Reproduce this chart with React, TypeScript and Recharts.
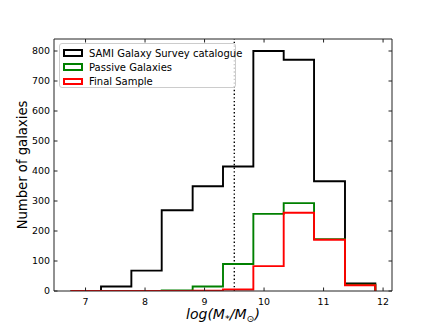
import { ComposedChart, Line, XAxis, YAxis, ReferenceLine, Label } from "recharts"

const binEdges = [6.75, 7.26, 7.77, 8.28, 8.8, 9.31, 9.82, 10.33, 10.84, 11.36, 11.87]
const samiCounts = [0, 15, 68, 269, 349, 415, 800, 771, 366, 25]
const passiveCounts = [0, 0, 0, 2, 15, 90, 257, 293, 173, 21]
const finalCounts = [0, 0, 0, 0, 1, 5, 83, 261, 171, 19]
const xTicks = [7, 8, 9, 10, 11, 12]
const yTicks = [0, 100, 200, 300, 400, 500, 600, 700, 800]
const massCut = 9.5

const series = [
  { name: "SAMI Galaxy Survey catalogue", counts: samiCounts, color: "#000000" },
  { name: "Passive Galaxies", counts: passiveCounts, color: "#008000" },
  { name: "Final Sample", counts: finalCounts, color: "#ff0000" },
]

// step outline like histtype="step": up at first edge, down at last
function stepPoints(counts: number[]) {
  const pts = [{ x: binEdges[0], y: 0 }]
  counts.forEach((c, i) => pts.push({ x: binEdges[i], y: c }))
  const last = binEdges[binEdges.length - 1]
  pts.push({ x: last, y: counts[counts.length - 1] })
  pts.push({ x: last, y: 0 })
  return pts
}

const xDomain: [number, number] = [6.47, 12.15]
const yDomain: [number, number] = [0, 840]
const font = "DejaVu Sans, sans-serif"
const axisColor = "#222"

function XLabel(props: any) {
  const vb = props.viewBox
  const cx = vb.x + vb.width / 2
  return (
    <text x={cx} y={vb.y + 28} textAnchor="middle" fontFamily={font} fontSize={14} fontStyle="italic" fill="#000">
      log(M<tspan fontSize={9.5} dy={3}>*</tspan>
      <tspan dy={-3}>/M</tspan>
      <tspan fontSize={9.5} dy={3}>⊙</tspan>
      <tspan dy={-3}>)</tspan>
    </text>
  )
}

function YLabel(props: any) {
  const vb = props.viewBox
  const cy = vb.y + vb.height / 2
  return (
    <text
      x={22}
      y={cy}
      transform={`rotate(-90, 22, ${cy})`}
      textAnchor="middle"
      dominantBaseline="central"
      fontFamily={font}
      fontSize={13.2}
      fill="#000"
    >
      Number of galaxies
    </text>
  )
}

const NoLabel = () => <g />

function LegendBox() {
  return (
    <div
      style={{
        position: "absolute",
        left: 59,
        top: 43,
        width: 175,
        height: 43,
        border: "1px solid #cccccc",
        borderRadius: 3,
        background: "rgba(255,255,255,0.8)",
        fontFamily: font,
        fontSize: 10,
        color: "#000",
      }}
    >
      {series.map((s, i) => (
        <div key={s.name} style={{ position: "absolute", left: 3, top: 2 + i * 14.2, height: 14, display: "flex", alignItems: "center" }}>
          <div style={{ width: 16, height: 3.5, border: `2px solid ${s.color}`, marginRight: 6 }} />
          <span style={{ whiteSpace: "nowrap" }}>{s.name}</span>
        </div>
      ))}
    </div>
  )
}

export default function App() {
  const tickStyle = { fontFamily: font, fontSize: 9.44, fill: "#000" }
  const frameData = stepPoints(samiCounts)
  return (
    <div style={{ position: "absolute", left: 0, top: 0, width: 436, height: 327, background: "#fff" }}>
      <ComposedChart width={436} height={327} margin={{ top: 39, right: 44, left: 0, bottom: 0 }}>
        <XAxis
          xAxisId="main"
          type="number"
          dataKey="x"
          domain={xDomain}
          ticks={xTicks}
          allowDataOverflow
          height={36}
          tickLine={false}
          tickSize={0}
          tickMargin={7}
          tick={tickStyle}
          axisLine={{ stroke: axisColor, strokeWidth: 1 }}
        >
          <Label content={<XLabel />} />
        </XAxis>
        <YAxis
          yAxisId="main"
          type="number"
          domain={yDomain}
          ticks={yTicks}
          allowDataOverflow
          width={54}
          tickLine={false}
          tickSize={0}
          tickMargin={4}
          tick={tickStyle}
          axisLine={{ stroke: axisColor, strokeWidth: 1 }}
        >
          <Label content={<YLabel />} />
        </YAxis>
        {/* inward ticks on all four sides */}
        <XAxis xAxisId="bm" dataKey="x" type="number" orientation="bottom" mirror domain={xDomain} ticks={xTicks} allowDataOverflow tick={NoLabel} axisLine={false} tickSize={3.5} tickLine={{ stroke: axisColor }} />
        <XAxis xAxisId="tm" dataKey="x" type="number" orientation="top" mirror domain={xDomain} ticks={xTicks} allowDataOverflow tick={NoLabel} axisLine={{ stroke: axisColor }} tickSize={3.5} tickLine={{ stroke: axisColor }} />
        <YAxis yAxisId="lm" type="number" orientation="left" mirror domain={yDomain} ticks={yTicks} allowDataOverflow tick={NoLabel} axisLine={false} tickSize={3.5} tickLine={{ stroke: axisColor }} />
        <YAxis yAxisId="rm" type="number" orientation="right" mirror domain={yDomain} ticks={yTicks} allowDataOverflow tick={NoLabel} axisLine={{ stroke: axisColor }} tickSize={3.5} tickLine={{ stroke: axisColor }} />
        {/* invisible series so the tick-only axes get rendered */}
        <Line xAxisId="bm" yAxisId="lm" data={frameData} dataKey="y" stroke="none" dot={false} activeDot={false} isAnimationActive={false} />
        <Line xAxisId="tm" yAxisId="rm" data={frameData} dataKey="y" stroke="none" dot={false} activeDot={false} isAnimationActive={false} />
        <ReferenceLine xAxisId="main" yAxisId="main" x={massCut} stroke="#000" strokeWidth={1.4} strokeDasharray="1.4 2.3" />
        {series.map((s) => (
          <Line
            key={s.name}
            xAxisId="main"
            yAxisId="main"
            data={stepPoints(s.counts)}
            dataKey="y"
            type="stepAfter"
            stroke={s.color}
            strokeWidth={1.9}
            dot={false}
            activeDot={false}
            isAnimationActive={false}
          />
        ))}
      </ComposedChart>
      <LegendBox />
    </div>
  )
}
